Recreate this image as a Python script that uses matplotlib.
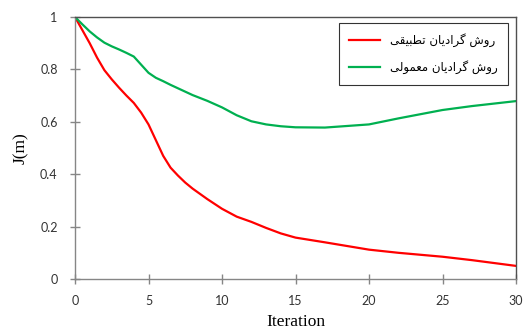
import numpy as np
import matplotlib
matplotlib.use("Agg")
import matplotlib.pyplot as plt

# valeurs
it_pts = [0, 0.5, 1, 1.5, 2, 2.5, 3, 3.5, 4, 4.5, 5, 5.5, 6, 6.5, 7, 7.5, 8, 9, 10, 11,
          12, 13, 14, 15, 17, 20, 22, 25, 27, 30]
j_adapt = [1.0, 0.95, 0.90, 0.845, 0.797, 0.762, 0.73, 0.70, 0.672, 0.635, 0.59, 0.53,
           0.47, 0.425, 0.395, 0.368, 0.345, 0.305, 0.268, 0.238, 0.218, 0.195, 0.174,
           0.158, 0.14, 0.112, 0.10, 0.085, 0.072, 0.05]
j_normal = [1.0, 0.972, 0.945, 0.922, 0.902, 0.888, 0.876, 0.863, 0.849, 0.818, 0.787,
            0.768, 0.755, 0.741, 0.728, 0.715, 0.702, 0.68, 0.655, 0.625, 0.602, 0.59,
            0.583, 0.579, 0.578, 0.59, 0.613, 0.645, 0.66, 0.679]

x_ticks = [0, 5, 10, 15, 20, 25, 30]
y_ticks = [0, 0.2, 0.4, 0.6, 0.8, 1]
y_labels = ['0', '0.2', '0.4', '0.6', '0.8', '1']

# texte persan en formes de presentation (ordre logique, inverse pour l'affichage)
lab_adapt = "\uFEAD\uFEED\uFEB5 \uFB94\uFEAE\uFE8D\uFEA9\uFBFE\uFE8E\uFEE5 \uFE97\uFEC4\uFE92\uFBFF\uFED8\uFBFD"[::-1]
lab_normal = "\uFEAD\uFEED\uFEB5 \uFB94\uFEAE\uFE8D\uFEA9\uFBFE\uFE8E\uFEE5 \uFEE3\uFECC\uFEE4\uFEEE\uFEDF\uFBFD"[::-1]

fig = plt.figure(figsize=(5.29, 3.30), dpi=100)
ax = fig.add_axes([75 / 529, 1 - 279 / 330, 441 / 529, 262 / 330])

ax.plot(it_pts, j_adapt, color='#ff0000', lw=1.6, label=lab_adapt, solid_joinstyle='round')
ax.plot(it_pts, j_normal, color='#00b050', lw=1.6, label=lab_normal, solid_joinstyle='round')

ax.set_xlim(0, 30)
ax.set_ylim(0, 1)
ax.set_xticks(x_ticks)
ax.set_yticks(y_ticks)
ax.set_yticklabels(y_labels)

for s in ['left', 'bottom']:
    ax.spines[s].set_color('#868686')
    ax.spines[s].set_linewidth(1.0)
for s in ['top', 'right']:
    ax.spines[s].set_color('#505050')
    ax.spines[s].set_linestyle((0, (1.5, 1)))
    ax.spines[s].set_linewidth(1.0)

ax.tick_params(direction='inout', length=7, width=1, color='#868686',
               labelsize=9, labelcolor='#333333')
ax.tick_params(axis='y', pad=9)
ax.tick_params(axis='x', pad=8)
for t in ax.get_xticklabels() + ax.get_yticklabels():
    t.set_fontfamily('Lato')

ax.set_xlabel('Iteration', family='Liberation Serif', fontsize=12.5, labelpad=5)
ax.set_ylabel('J(m)', family='Liberation Serif', fontsize=12.5, labelpad=8)

leg = ax.legend(loc='upper right', bbox_to_anchor=(433 / 441, 256 / 262),
                prop={'family': 'DejaVu Sans', 'size': 8.5}, frameon=True, fancybox=False,
                handlelength=2.6, borderpad=0.9, labelspacing=1.1, borderaxespad=0)
leg.get_frame().set_edgecolor('black')
leg.get_frame().set_linewidth(0.8)

fig.savefig('out.png', dpi=100)
